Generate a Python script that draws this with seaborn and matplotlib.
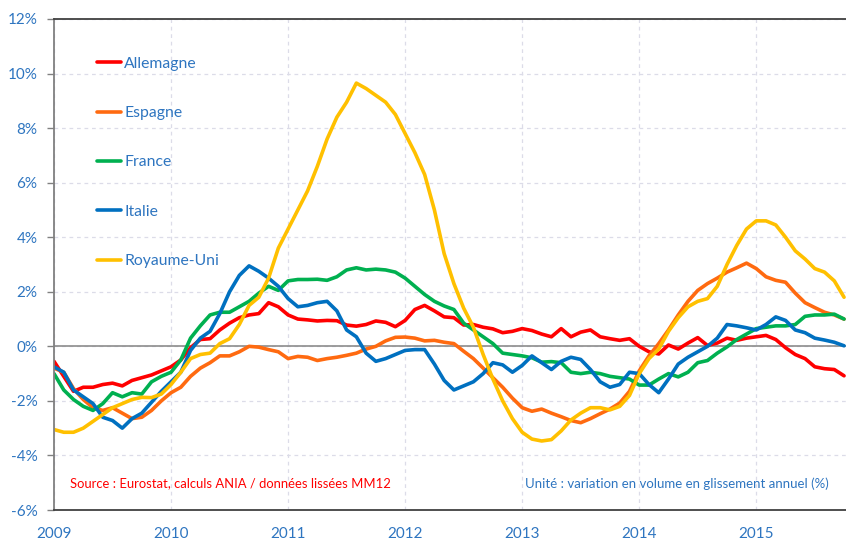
import numpy as np
import pandas as pd
import matplotlib
matplotlib.use('Agg')
import matplotlib.pyplot as plt
import seaborn as sns

# monthly values, Jan 2009 -> Oct 2015 (% yoy, smoothed MM12)
allemagne = [-0.55, -1.1, -1.65, -1.5, -1.5, -1.4, -1.35, -1.45, -1.25, -1.15, -1.05, -0.9, -0.75, -0.5, -0.05, 0.25, 0.28, 0.6, 0.85, 1.05, 1.15,
             1.2, 1.6, 1.45, 1.15, 1.0, 0.97, 0.93, 0.95, 0.94, 0.78, 0.74, 0.8, 0.93, 0.88, 0.72, 0.95, 1.35, 1.5, 1.3, 1.08, 1.05,
             0.78, 0.8, 0.7, 0.64, 0.5, 0.55, 0.65, 0.58, 0.45, 0.35, 0.65, 0.35, 0.52, 0.6, 0.35, 0.28, 0.22, 0.28, 0.0, -0.2,
             -0.28, 0.05, -0.1, 0.12, 0.32, 0.03, 0.12, 0.3, 0.22, 0.3, 0.35, 0.4, 0.25, -0.05, -0.3, -0.45, -0.75, -0.82, -0.85, -1.08]
espagne = [-0.8, -0.95, -1.55, -1.95, -2.25, -2.35, -2.25, -2.45, -2.65, -2.6, -2.35, -2.0, -1.7, -1.5, -1.1, -0.8, -0.6, -0.35, -0.35, -0.2, 0.0,
           -0.03, -0.12, -0.2, -0.45, -0.37, -0.4, -0.52, -0.45, -0.4, -0.33, -0.25, -0.1, 0.0, 0.2, 0.33, 0.34, 0.3, 0.2, 0.22, 0.15, 0.1,
           -0.18, -0.45, -0.8, -1.15, -1.5, -1.9, -2.25, -2.38, -2.3, -2.45, -2.58, -2.72, -2.8, -2.65, -2.47, -2.3, -2.08, -1.65, -0.9, -0.35,
           0.1, 0.6, 1.15, 1.65, 2.05, 2.3, 2.5, 2.72, 2.88, 3.05, 2.85, 2.55, 2.42, 2.35, 1.95, 1.6, 1.42, 1.25, 1.15, 1.0]
france = [-1.0, -1.6, -1.95, -2.2, -2.35, -2.1, -1.7, -1.85, -1.7, -1.75, -1.3, -1.1, -0.95, -0.5, 0.3, 0.75, 1.15, 1.25, 1.25, 1.45, 1.65,
          1.95, 2.2, 2.05, 2.4, 2.45, 2.45, 2.46, 2.42, 2.55, 2.8, 2.88, 2.8, 2.83, 2.8, 2.72, 2.5, 2.2, 1.9, 1.65, 1.48, 1.35,
          0.85, 0.6, 0.35, 0.1, -0.25, -0.3, -0.35, -0.42, -0.58, -0.56, -0.6, -0.95, -1.0, -0.95, -1.0, -1.1, -1.15, -1.2, -1.42, -1.42,
          -1.2, -1.0, -1.12, -0.95, -0.6, -0.52, -0.25, -0.02, 0.25, 0.45, 0.65, 0.7, 0.75, 0.75, 0.8, 1.1, 1.15, 1.15, 1.18, 1.0]
italie = [-0.75, -0.95, -1.6, -1.85, -2.1, -2.6, -2.72, -3.0, -2.65, -2.45, -2.05, -1.65, -1.3, -0.95, -0.15, 0.3, 0.55, 1.2, 2.0, 2.6, 2.95,
          2.75, 2.5, 2.2, 1.75, 1.45, 1.5, 1.6, 1.65, 1.3, 0.6, 0.35, -0.25, -0.55, -0.45, -0.3, -0.15, -0.12, -0.12, -0.65, -1.25, -1.6,
          -1.45, -1.3, -1.0, -0.6, -0.68, -0.95, -0.7, -0.35, -0.6, -0.85, -0.55, -0.4, -0.48, -0.85, -1.3, -1.5, -1.4, -0.95, -1.0, -1.4,
          -1.7, -1.2, -0.65, -0.4, -0.2, 0.0, 0.3, 0.8, 0.75, 0.68, 0.6, 0.8, 1.08, 0.95, 0.6, 0.5, 0.3, 0.23, 0.15, 0.02]
royaume_uni = [-3.05, -3.15, -3.15, -3.0, -2.75, -2.5, -2.25, -2.1, -1.95, -1.87, -1.88, -1.75, -1.4, -0.95, -0.45, -0.3, -0.25, 0.1, 0.28, 0.8, 1.5,
               1.8, 2.5, 3.6, 4.3, 5.0, 5.7, 6.6, 7.6, 8.4, 8.95, 9.65, 9.45, 9.2, 8.95, 8.5, 7.8, 7.1, 6.3, 5.0, 3.4, 2.3,
               1.4, 0.7, -0.3, -1.2, -2.0, -2.65, -3.15, -3.4, -3.47, -3.42, -3.1, -2.7, -2.45, -2.25, -2.25, -2.33, -2.2, -1.8, -1.0, -0.45,
               -0.1, 0.55, 1.05, 1.45, 1.65, 1.75, 2.2, 3.0, 3.7, 4.3, 4.6, 4.6, 4.45, 4.0, 3.5, 3.2, 2.85, 2.72, 2.4, 1.8]

pays = ['Allemagne', 'Espagne', 'France', 'Italie', 'Royaume-Uni']
couleurs = ['#FF0000', '#FF6A10', '#00B050', '#0070C0', '#FFC000']
annees = [2009, 2010, 2011, 2012, 2013, 2014, 2015]
y_ticks = [-6, -4, -2, 0, 2, 4, 6, 8, 10, 12]

bleu = '#2E75C0'

# ── long format for seaborn ──────────────────────────────────
series = [allemagne, espagne, france, italie, royaume_uni]
dates = 2009 + np.arange(len(allemagne)) / 12
df = pd.concat([pd.DataFrame({'date': dates, 'valeur': s, 'pays': p})
                for p, s in zip(pays, series)], ignore_index=True)

sns.set_style('white')
plt.rcParams['font.family'] = ['Lato', 'DejaVu Sans']

fig = plt.figure(figsize=(8.46, 5.40), dpi=100)
ax = fig.add_axes([54 / 846, 30 / 540, 792 / 846, 491 / 540])

sns.lineplot(data=df, x='date', y='valeur', hue='pays', hue_order=pays,
             palette=couleurs, linewidth=2.6, ax=ax)

ax.set_xlim(2009, 2009 + 81.2 / 12)
ax.set_ylim(-6, 12)

ax.set_yticks(y_ticks)
ax.set_yticklabels([f'{v}%' for v in y_ticks])
ax.set_xticks(annees)
ax.set_xticklabels([str(a) for a in annees])
ax.tick_params(axis='y', colors='#808080', labelcolor=bleu, labelsize=11,
               length=5, width=1, pad=7, left=True)
ax.tick_params(axis='x', labelcolor=bleu, labelsize=11, length=0, pad=12)

ax.grid(True, color='#DCDCE8', linestyle=(0, (3, 3)), linewidth=0.9)
ax.axhline(0, color='#8C8C8C', linewidth=1.2, zorder=1.5)

ax.spines['left'].set_color('#808080')
ax.spines['left'].set_linewidth(1.3)
for s in ['top', 'bottom']:
    ax.spines[s].set_color('#404040')
    ax.spines[s].set_linewidth(1.3)
ax.spines['right'].set_visible(False)

ax.set_xlabel('')
ax.set_ylabel('')

handles, labels = ax.get_legend_handles_labels()
leg = ax.legend(handles, labels, loc='upper left', bbox_to_anchor=(0.054, 0.923),
                frameon=False, fontsize=11.3, handlelength=1.55, handletextpad=0.2,
                labelspacing=2.25, borderpad=0, borderaxespad=0, labelcolor=bleu)

ax.text(0.02, 0.055, 'Source : Eurostat, calculs ANIA / données lissées MM12',
        transform=ax.transAxes, color='#FF0000', fontsize=9.4, va='center', ha='left')
ax.text(0.9785, 0.053, 'Unité : variation en volume en glissement annuel (%)',
        transform=ax.transAxes, color=bleu, fontsize=9.5, va='center', ha='right')

plt.savefig('out.png', dpi=100)
